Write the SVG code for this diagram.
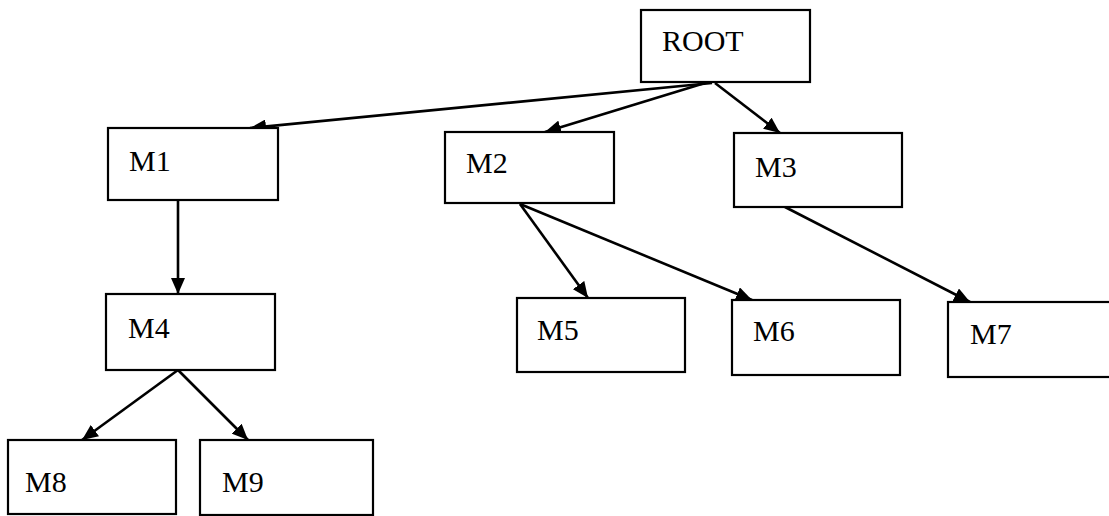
<svg xmlns="http://www.w3.org/2000/svg" width="1109" height="516" viewBox="0 0 1109 516">
<style>
.box{fill:#fff;stroke:#000;stroke-width:2.2}
.lbl{font-family:"Liberation Serif","Times New Roman",serif;font-size:30px;fill:#000}
.edge{stroke:#000;stroke-width:2.6;fill:none;marker-end:url(#ah)}
</style>
<defs>
<marker id="ah" viewBox="0 0 16 14" refX="16" refY="7" markerWidth="16" markerHeight="14" markerUnits="userSpaceOnUse" orient="auto">
<path d="M0,0 L16,7 L0,14 Z" fill="#000"/>
</marker>
</defs>
<rect width="1109" height="516" fill="#fff"/>
<g id="connectors">
<line class="edge" x1="712" y1="83" x2="250" y2="128"/>
<line class="edge" x1="705" y1="83" x2="545" y2="132"/>
<line class="edge" x1="715" y1="83" x2="780" y2="133"/>
<line class="edge" x1="178" y1="200" x2="178" y2="294"/>
<line class="edge" x1="520" y1="204" x2="588" y2="298"/>
<line class="edge" x1="520" y1="204" x2="752" y2="300"/>
<line class="edge" x1="785" y1="207" x2="970" y2="302"/>
<line class="edge" x1="178" y1="370" x2="82" y2="440"/>
<line class="edge" x1="178" y1="370" x2="248" y2="440"/>
</g>
<g id="ROOT"><rect class="box" x="641" y="10" width="169" height="72"/><text class="lbl" x="662" y="51">ROOT</text></g>
<g id="M1"><rect class="box" x="108" y="128" width="170" height="72"/><text class="lbl" x="129" y="171">M1</text></g>
<g id="M2"><rect class="box" x="445" y="132" width="169" height="71"/><text class="lbl" x="466" y="173">M2</text></g>
<g id="M3"><rect class="box" x="734" y="133" width="168" height="74"/><text class="lbl" x="755" y="177">M3</text></g>
<g id="M4"><rect class="box" x="106" y="294" width="169" height="76"/><text class="lbl" x="128" y="338">M4</text></g>
<g id="M5"><rect class="box" x="517" y="298" width="168" height="74"/><text class="lbl" x="537" y="340">M5</text></g>
<g id="M6"><rect class="box" x="732" y="300" width="168" height="75"/><text class="lbl" x="753" y="341">M6</text></g>
<g id="M7"><rect class="box" x="948" y="302" width="170" height="75"/><text class="lbl" x="970" y="344">M7</text></g>
<g id="M8"><rect class="box" x="8" y="440" width="168" height="74"/><text class="lbl" x="25" y="492">M8</text></g>
<g id="M9"><rect class="box" x="200" y="440" width="173" height="75"/><text class="lbl" x="222" y="492">M9</text></g>
</svg>
